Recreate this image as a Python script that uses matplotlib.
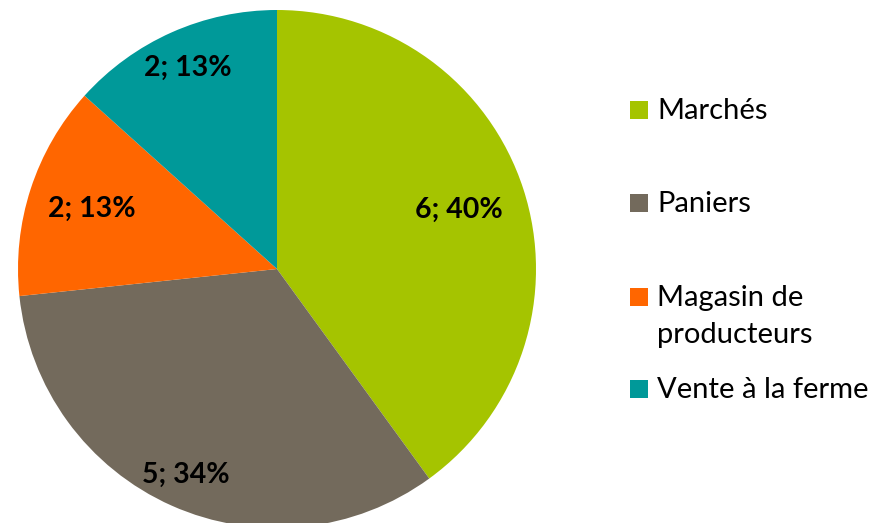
import numpy as np
import matplotlib
matplotlib.use("Agg")
import matplotlib.pyplot as plt
from matplotlib.patches import Rectangle

categories = ["Marchés", "Paniers", "Magasin de\nproducteurs", "Vente à la ferme"]
values = [6, 5, 2, 2]
pct_labels = ["40%", "34%", "13%", "13%"]
colors = ["#A5C400", "#736A5C", "#FF6600", "#009999"]
label_r = [0.74, 0.87, 0.75, 0.85]

plt.rcParams['font.family'] = ['Lato', 'DejaVu Sans']

W, H = 875, 523
fig = plt.figure(figsize=(W / 100, H / 100), dpi=100)
cx, cy, R = 277, 523 - 269, 259
ax = fig.add_axes([(cx - R) / W, (cy - R) / H, 2 * R / W, 2 * R / H])
wedges, _ = ax.pie(values, colors=colors, startangle=90, counterclock=False,
                   radius=1, wedgeprops=dict(linewidth=0))
ax.set_xlim(-1, 1)
ax.set_ylim(-1, 1)
ax.set_aspect('equal')
ax.axis('off')

for w, v, p, r in zip(wedges, values, pct_labels, label_r):
    th = np.deg2rad((w.theta1 + w.theta2) / 2)
    ax.text(r * np.cos(th), r * np.sin(th), f"{v}; {p}", ha='center', va='center',
            fontsize=20.5, fontweight='bold', color='black')

# legend (handle aligned with first line of each label, as in the original)
baselines = [119, 212, 306, 398]
line_gap = 37
sq = 18
for lab, c, b in zip(categories, colors, baselines):
    fig.add_artist(Rectangle((630 / W, 1 - b / H), sq / W, sq / H, facecolor=c,
                             edgecolor='none', transform=fig.transFigure))
    for i, line in enumerate(lab.split("\n")):
        fig.text(657 / W, 1 - (b + i * line_gap) / H, line, ha='left', va='baseline',
                 fontsize=21, color='black')

fig.savefig("out.png", dpi=100)
